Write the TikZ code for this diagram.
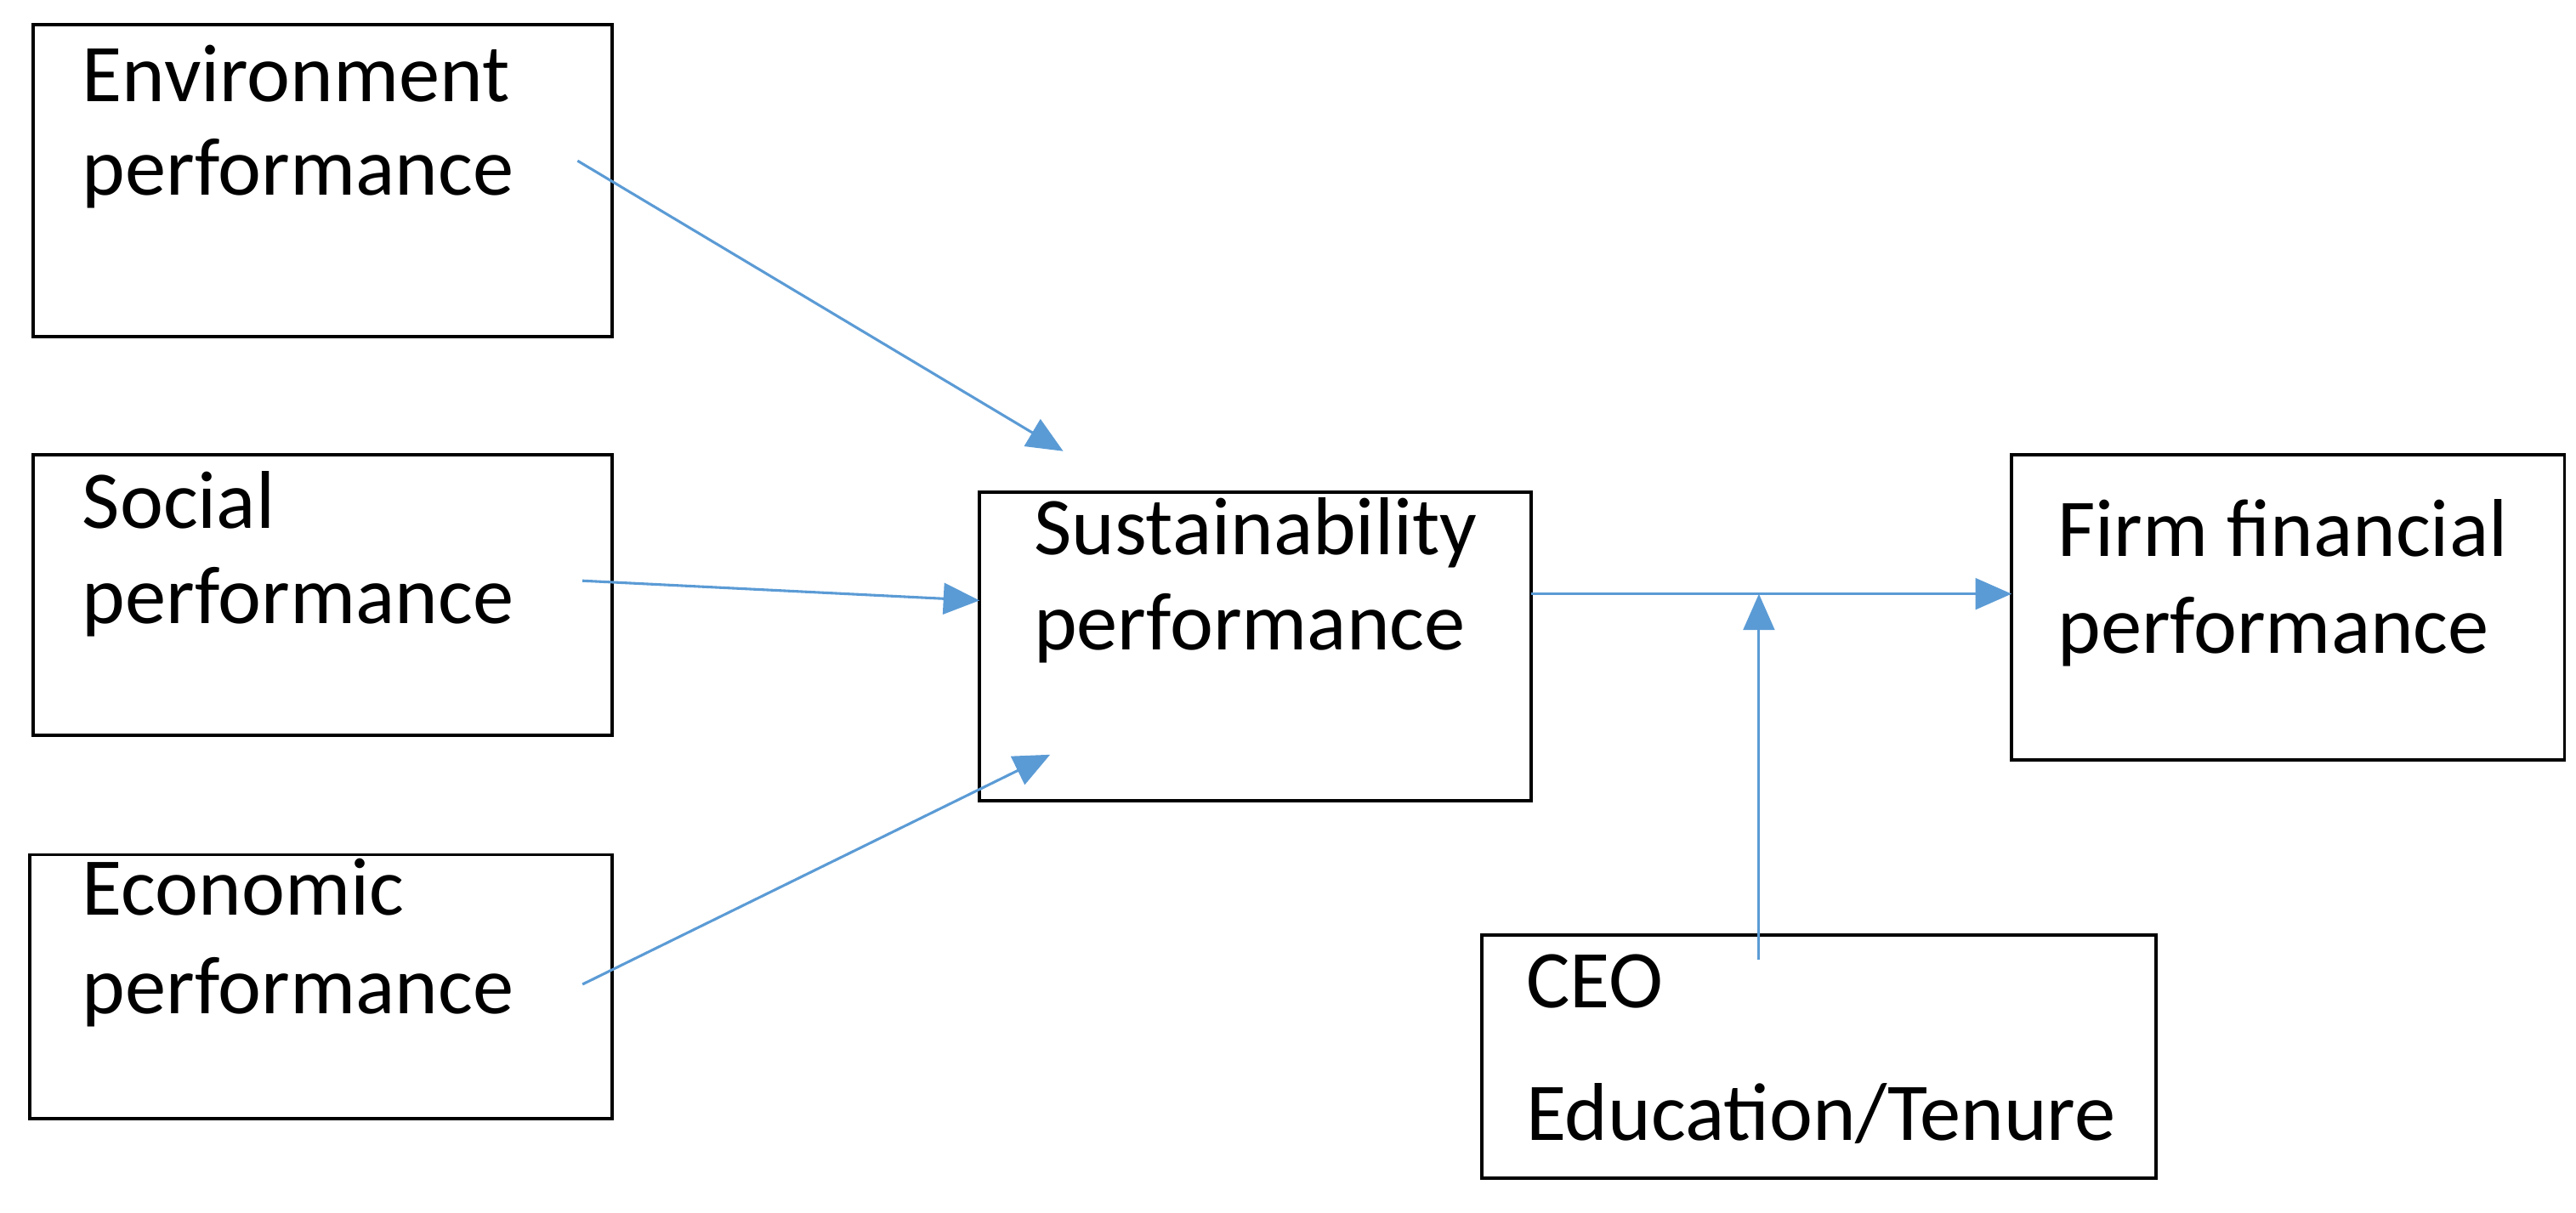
\documentclass[tikz,border=0pt]{standalone}
\usepackage{fontspec}
\setmainfont{Carlito}
\usetikzlibrary{arrows.meta}
\begin{document}
\begin{tikzpicture}[x=1pt,y=-1pt,
  box/.style={draw,line width=2pt},
  lbl/.style={anchor=base west,font=\fontsize{50}{54}\selectfont,inner sep=0},
  conn/.style={draw={rgb,255:red,91;green,155;blue,213},line width=1.6pt,-{Triangle[length=22pt,width=19pt]}}]
\useasboundingbox (0,0) rectangle (1570,739);
\draw[box] (20,15) rectangle (373,205);
\draw[box] (20,277) rectangle (373,448);
\draw[box] (18,521) rectangle (373,682);
\draw[box] (597,300) rectangle (933,488);
\draw[box] (1226,277) rectangle (1563,463);
\draw[box] (903,570) rectangle (1314,718);
\node[lbl] (e1) at (50,62) {Environment};
\node[lbl] (e2) at (50,119) {performance};
\node[lbl] (s1) at (50,322) {Social};
\node[lbl] (s2) at (50,380) {performance};
\node[lbl] (c1) at (50,558) {Economic};
\node[lbl] (c2) at (50,618) {performance};
\node[lbl] (u1) at (630,338) {Sustainability};
\node[lbl] (u2) at (630,396) {performance};
\node[lbl] (f1) at (1254,339) {Firm financial};
\node[lbl] (f2) at (1254,398) {performance};
\node[lbl] (o1) at (930,614) {CEO};
\node[lbl] (o2) at (930,695) {Education/Tenure};
\coordinate (a1) at (352,98); \coordinate (a1e) at (648,275);
\coordinate (b1) at (355,354); \coordinate (b1e) at (597,366);
\coordinate (d1) at (355,600); \coordinate (d1e) at (640,460);
\coordinate (g1) at (933,362); \coordinate (g1e) at (1226,362);
\coordinate (h1) at (1072,585); \coordinate (h1e) at (1072,362);
\draw[conn] (a1) -- (a1e);
\draw[conn] (b1) -- (b1e);
\draw[conn] (d1) -- (d1e);
\draw[conn] (g1) -- (g1e);
\draw[conn] (h1) -- (h1e);
\end{tikzpicture}
\end{document}
